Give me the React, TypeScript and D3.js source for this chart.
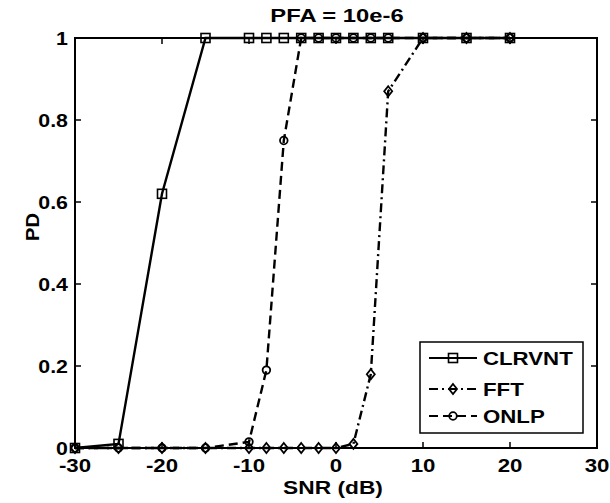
import { useEffect, useRef } from 'react';
import * as d3 from 'd3';

// SNR grid shared by all three detectors
const snrDb = [-30, -25, -20, -15, -10, -8, -6, -4, -2, 0, 2, 4, 6, 10, 15, 20];
const clrvntPd = [0, 0.01, 0.62, 1, 1, 1, 1, 1, 1, 1, 1, 1, 1, 1, 1, 1];
const fftPd = [0, 0, 0, 0, 0, 0, 0, 0, 0, 0, 0.01, 0.18, 0.87, 1, 1, 1];
const onlpPd = [0, 0, 0, 0, 0.015, 0.19, 0.75, 1, 1, 1, 1, 1, 1, 1, 1, 1];

const seriesNames = ['CLRVNT', 'FFT', 'ONLP'];
const xTicks = [-30, -20, -10, 0, 10, 20, 30];
const yTicks = [0, 0.2, 0.4, 0.6, 0.8, 1];

const FONT = '"Liberation Sans", Arial, sans-serif';

export default function App() {
  const svgRef = useRef<SVGSVGElement>(null);

  useEffect(() => {
    if (!svgRef.current) return;
    const svg = d3.select(svgRef.current);
    svg.selectAll('*').remove();

    const left = 75, right = 597, top = 38, bottom = 448;
    const x = d3.scaleLinear().domain([-30, 30]).range([left, right]);
    const y = d3.scaleLinear().domain([0, 1]).range([bottom, top]);

    svg.append('rect').attr('width', 610).attr('height', 503).attr('fill', '#fff');

    // stretched bold text, like the original export
    const label = (g: any, txt: string, tx: number, ty: number, anchor: string, sx = 1.27) =>
      g.append('text')
        .attr('transform', `translate(${tx},${ty}) scale(${sx},1)`)
        .attr('text-anchor', anchor)
        .style('font-family', FONT)
        .style('font-weight', 'bold')
        .style('font-size', '17.5px')
        .attr('fill', '#000')
        .text(txt);

    // axes box
    svg.append('rect')
      .attr('x', left).attr('y', top)
      .attr('width', right - left).attr('height', bottom - top)
      .attr('fill', 'none').attr('stroke', '#000').attr('stroke-width', 2);

    const tk = 6;
    xTicks.forEach(t => {
      const px = x(t);
      svg.append('line').attr('x1', px).attr('x2', px).attr('y1', bottom).attr('y2', bottom - tk)
        .attr('stroke', '#000').attr('stroke-width', 1.5);
      svg.append('line').attr('x1', px).attr('x2', px).attr('y1', top).attr('y2', top + tk)
        .attr('stroke', '#000').attr('stroke-width', 1.5);
      label(svg, String(t), px, 472, 'middle');
    });
    yTicks.forEach(t => {
      const py = y(t);
      svg.append('line').attr('x1', left).attr('x2', left + tk).attr('y1', py).attr('y2', py)
        .attr('stroke', '#000').attr('stroke-width', 1.5);
      svg.append('line').attr('x1', right).attr('x2', right - tk).attr('y1', py).attr('y2', py)
        .attr('stroke', '#000').attr('stroke-width', 1.5);
      label(svg, String(t), 68, py + 6.5, 'end', 1.22);
    });

    label(svg, 'PFA = 10e-6', 337, 22, 'middle', 1.36);
    label(svg, 'SNR (dB)', 333, 494, 'middle', 1.3);
    svg.append('text')
      .attr('transform', `translate(39,227) rotate(-90) scale(1.15,1)`)
      .attr('text-anchor', 'middle')
      .style('font-family', FONT)
      .style('font-weight', 'bold')
      .style('font-size', '17.5px')
      .text('PD');

    const styles = [
      { values: clrvntPd, dash: null, marker: 'square' },
      { values: fftPd, dash: '9,4,2,4', marker: 'diamond' },
      { values: onlpPd, dash: '9,5', marker: 'circle' },
    ];

    const drawMarker = (g: any, kind: string, px: number, py: number) => {
      if (kind === 'square') {
        g.append('rect').attr('x', px - 4.5).attr('y', py - 4.5).attr('width', 9).attr('height', 9)
          .attr('fill', 'none').attr('stroke', '#000').attr('stroke-width', 1.6);
      } else if (kind === 'diamond') {
        g.append('path').attr('d', `M${px},${py - 5}L${px + 4},${py}L${px},${py + 5}L${px - 4},${py}Z`)
          .attr('fill', 'none').attr('stroke', '#000').attr('stroke-width', 1.8);
      } else {
        g.append('circle').attr('cx', px).attr('cy', py).attr('r', 3.8)
          .attr('fill', 'none').attr('stroke', '#000').attr('stroke-width', 1.8);
      }
    };

    const line = d3.line<number>().x((_, i) => x(snrDb[i])).y(d => y(d));

    styles.forEach(s => {
      const path = svg.append('path')
        .attr('d', line(s.values))
        .attr('fill', 'none').attr('stroke', '#000').attr('stroke-width', 2.4);
      if (s.dash) path.attr('stroke-dasharray', s.dash);
      s.values.forEach((v, i) => drawMarker(svg, s.marker, x(snrDb[i]), y(v)));
    });

    // legend
    const lg = svg.append('g');
    lg.append('rect').attr('x', 420).attr('y', 342).attr('width', 163).attr('height', 91)
      .attr('fill', '#fff').attr('stroke', '#000').attr('stroke-width', 1.5);
    const rowY = [358, 389, 416];
    styles.forEach((s, i) => {
      const ly = rowY[i];
      const l = lg.append('line').attr('x1', 429).attr('x2', 477).attr('y1', ly).attr('y2', ly)
        .attr('stroke', '#000').attr('stroke-width', 2);
      if (s.dash) l.attr('stroke-dasharray', s.dash);
      drawMarker(lg, s.marker, 453, ly);
      label(lg, seriesNames[i], 483, ly + 6.5, 'start');
    });
  }, []);

  return (
    <div style={{ position: 'fixed', left: 0, top: 0, width: 610, height: 503 }}>
      <svg ref={svgRef} width={610} height={503} style={{ display: 'block' }} />
    </div>
  );
}
